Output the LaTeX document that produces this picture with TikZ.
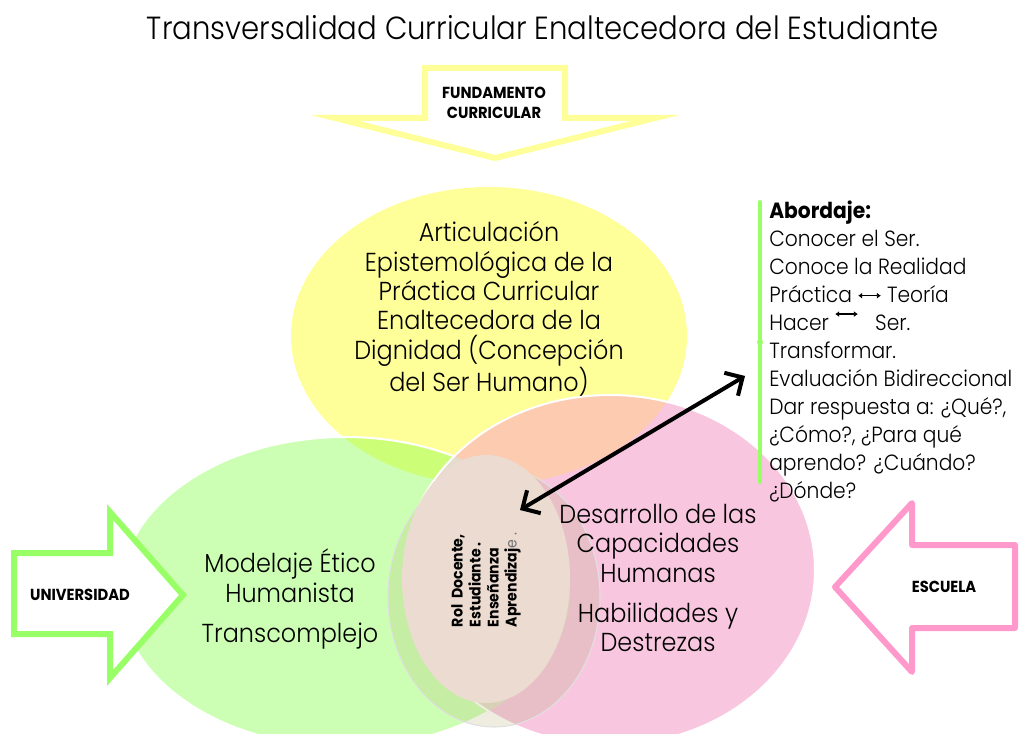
\documentclass[tikz,border=0pt]{standalone}
\usepackage{fontspec}
\usepackage{graphicx}
\setmainfont{Poppins}[FakeStretch=0.92]
\IfFontExistsTF{Poppins Light}{\newfontfamily\lightfont{Poppins Light}[FakeStretch=0.92]}{\newfontfamily\lightfont{Poppins}[FakeStretch=0.92]}
\usetikzlibrary{arrows.meta}
\definecolor{cyel}{RGB}{255,255,153}
\definecolor{cgrn}{RGB}{204,255,179}
\definecolor{cpnk}{RGB}{249,198,224}
\definecolor{cyg}{RGB}{204,255,119}
\definecolor{cpeach}{RGB}{253,203,176}
\definecolor{cgp}{RGB}{228,220,205}
\definecolor{cbeige}{RGB}{235,219,208}
\definecolor{cshade}{RGB}{170,165,100}
\definecolor{ayel}{RGB}{255,255,153}
\definecolor{agrn}{RGB}{153,255,102}
\definecolor{apnk}{RGB}{255,153,204}
\newcommand{\dblarrow}{\tikz[baseline=-0.6ex]\draw[{Latex[length=3pt,width=4.5pt]}-{Latex[length=3pt,width=4.5pt]},line width=1pt] (0pt,0pt) -- (17pt,0pt);}
\tikzset{
  bigarrow/.style={line width=4.5pt, fill=white, line join=miter},
  body/.style={font=\lightfont\fontsize{19.5pt}{22pt}\selectfont, align=center, inner sep=0pt},
  lbl/.style={font=\bfseries\fontsize{12pt}{15pt}\selectfont, align=center, inner sep=0pt},
}
\begin{document}
\begin{tikzpicture}[x=0.75pt,y=-0.75pt]
\useasboundingbox (0,0) rectangle (1021,734);
% title
\node[anchor=base, inner sep=0pt, font=\lightfont\fontsize{24pt}{28pt}\selectfont] (title) at (543,40) {\resizebox{594pt}{\height}{Transversalidad Curricular Enaltecedora del Estudiante}};
% ellipses
\def\ey{(489,336) ellipse [x radius=198, y radius=149]}
\def\eg{(345,592) ellipse [x radius=225, y radius=155]}
\def\ep{(610,570) ellipse [x radius=205, y radius=175]}
\fill[cyel] \ey;
\fill[cgrn] \eg;
\begin{scope}\clip \ey; \fill[cyg] \eg; \end{scope}
\draw[white, line width=1.5pt] \eg;
\fill[cpnk] \ep;
\begin{scope}\clip \ey; \fill[cpeach] \ep; \end{scope}
\begin{scope}\clip \eg; \fill[cgp] \ep; \end{scope}
\draw[white, line width=1.5pt] \ep;
\fill[cshade, fill opacity=0.2] (494,597) ellipse [x radius=106, y radius=130];
\draw[black!12, line width=0.8pt] (494,597) ellipse [x radius=106, y radius=130];
\fill[cbeige] (486,579) ellipse [x radius=84, y radius=124];
% arrows
\draw[bigarrow, draw=ayel] (425,68) -- (565,68) -- (565,118) -- (655,118) -- (495,158) -- (335,118) -- (425,118) -- cycle;
\draw[bigarrow, draw=agrn] (14,553) -- (110,553) -- (110,512) -- (183,595) -- (110,678) -- (110,634) -- (14,634) -- cycle;
\draw[bigarrow, draw=apnk, line join=round] (1015,545) -- (912,545) -- (912,503) -- (835,587) -- (912,672) -- (912,628) -- (1015,628) -- cycle;
\node[lbl] (fund) at (494,103) {FUNDAMENTO\\CURRICULAR};
\node[lbl] (univ) at (80,595) {UNIVERSIDAD};
\node[lbl] (esc) at (944,587) {ESCUELA};
% ellipse texts
\node[body] (art) at (489,309) {Articulación\\Epistemológica de la\\Práctica Curricular\\Enaltecedora de la\\Dignidad (Concepción\\del Ser Humano)};
\node[body] (mod) at (290,599) {Modelaje Ético\\Humanista\\[8pt]Transcomplejo};
\node[body] (des) at (658,578) {Desarrollo de las\\Capacidades\\Humanas\\[8pt]Habilidades y\\Destrezas};
\node[font=\bfseries\fontsize{11.5pt}{13.5pt}\selectfont, align=left, inner sep=0pt, rotate=90] (rol) at (486,580) {Rol\ \ Docente,\\Estudiante .\\Enseñanza\\Aprendizaj{\mdseries\color{black!55}e .}};
% abordaje
\draw[agrn, line width=3pt, line cap=round] (760,202) -- (760,482);
\fill[agrn] (760,342) circle [radius=3];
\node[anchor=north west, align=left, inner sep=0pt, font=\lightfont\fontsize{16.5pt}{21pt}\selectfont] (abo) at (769,201) {{\rmfamily\bfseries Abordaje:}\\Conocer el Ser.\\Conoce la Realidad\\Práctica \dblarrow\ Teoría\\Hacer \raisebox{0.8ex}{\dblarrow}\ \ \ Ser.\\Transformar.\\Evaluación Bidireccional\\Dar respuesta a: ¿Qué?,\\¿Cómo?, ¿Para qué\\aprendo? ¿Cuándo?\\¿Dónde?};
% connector
\coordinate (aTop) at (745,376);
\coordinate (aBot) at (520,510);
\draw[line width=3pt, {Straight Barb[length=10pt,width=20pt]}-{Straight Barb[length=10pt,width=20pt]}] (aTop) -- (aBot);
\end{tikzpicture}
\end{document}
